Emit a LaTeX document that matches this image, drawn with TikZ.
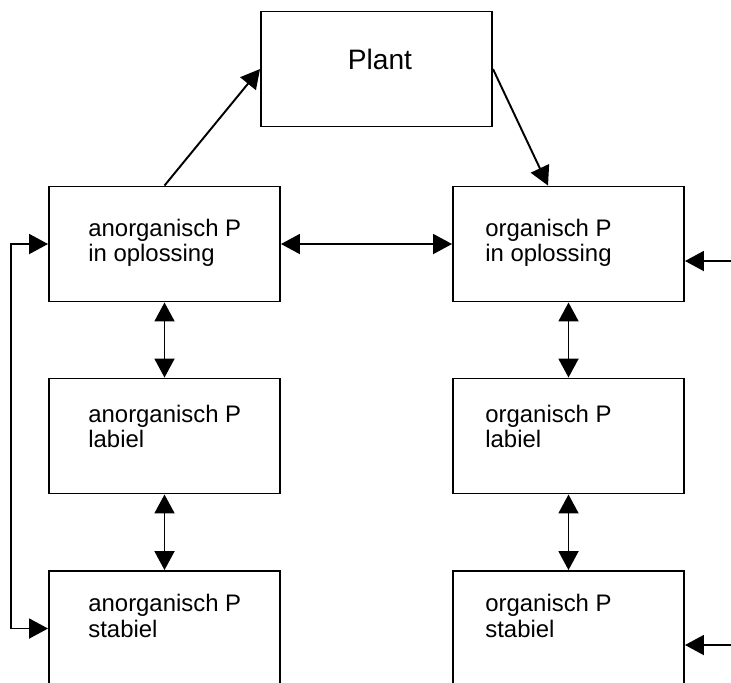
\documentclass[tikz,border=0pt]{standalone}
\usepackage{fontspec}
\setmainfont{Liberation Sans}
\usetikzlibrary{arrows.meta}

\tikzset{
  box/.style={draw, line width=1.1pt, minimum width=4.62cm, minimum height=2.3cm, inner sep=0pt},
  txt/.style={anchor=base west, align=left, inner sep=0pt, font=\fontsize{13.6}{14.5}\selectfont},
  pijl/.style={line width=1.1pt, -{Triangle[length=0.38cm, width=0.4cm]}},
  dubbel/.style={line width=1.1pt, {Triangle[length=0.38cm, width=0.4cm]}-{Triangle[length=0.38cm, width=0.4cm]}}
}

\begin{document}
\begin{tikzpicture}

      \clip (0,0) rectangle (14.62,-13.64);

      \node[box] (plant) at (7.53,-1.38) {};
      \node[anchor=base, inner sep=0pt, font=\fontsize{16}{18}\selectfont, yshift=-1.18cm, xshift=0.07cm] (plantTxt) at (plant.north) {Plant};

      %Anorganisch
      \node[box] (aio) at (3.29,-4.88) {};
      \node[box] (ail) at (3.29,-8.72) {};
      \node[box] (ais) at (3.29,-12.57) {};
      \node[txt, xshift=0.8cm, yshift=-1.52cm] (aioTxt) at (aio.north west) {anorganisch P\\in oplossing};
      \node[txt, xshift=0.8cm, yshift=-1.4cm] (ailTxt) at (ail.north west) {anorganisch P\\labiel};
      \node[txt, xshift=0.8cm, yshift=-1.34cm] (aisTxt) at (ais.north west) {anorganisch P\\stabiel};

      %Organisch
      \node[box] (oio) at (11.37,-4.88) {};
      \node[box] (oil) at (11.37,-8.72) {};
      \node[box] (ois) at (11.37,-12.57) {};
      \node[txt, xshift=0.66cm, yshift=-1.52cm] (oioTxt) at (oio.north west) {organisch P\\in oplossing};
      \node[txt, xshift=0.66cm, yshift=-1.4cm] (oilTxt) at (oil.north west) {organisch P\\labiel};
      \node[txt, xshift=0.66cm, yshift=-1.34cm] (oisTxt) at (ois.north west) {organisch P\\stabiel};

      \coordinate (inBoven) at (14.62,-5.22);
      \coordinate (inOnder) at (14.62,-12.9);

      \draw[pijl] (aio.north) -- (plant.west);
      \draw[pijl] (plant.east) -- ([xshift=-0.41cm]oio.north);
      \draw[dubbel] (aio.east) -- (oio.west);
      \draw[dubbel] (aio.south) -- (ail.north);
      \draw[dubbel] (ail.south) -- (ais.north);
      \draw[dubbel] (oio.south) -- (oil.north);
      \draw[dubbel] (oil.south) -- (ois.north);

      %Lus links
      \draw[dubbel] (ais.west) -- ++(-0.74,0) |- (aio.west);

      \draw[pijl] (inBoven) -- (inBoven -| oio.east);
      \draw[pijl] (inOnder) -- (inOnder -| ois.east);

    \end{tikzpicture}
\end{document}
